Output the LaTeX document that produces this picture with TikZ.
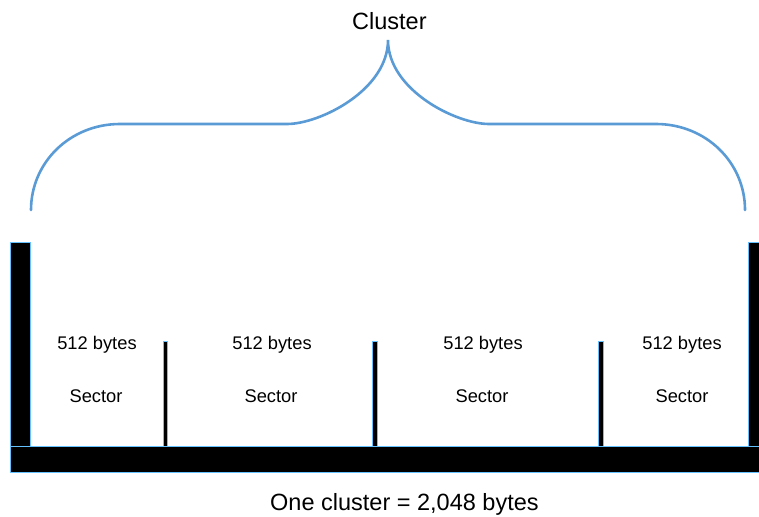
\documentclass[tikz,border=0pt]{standalone}
\usepackage{fontspec}
\setmainfont{Liberation Sans}
\begin{document}
\begin{tikzpicture}[x=1pt,y=-1pt,
  post/.style={fill=black,draw=blue!40!cyan!60!white,line width=0.8pt},
  brace/.style={draw=bracecol,line width=2.6pt,line cap=round},
  lbl/.style={font=\fontsize{18.3}{20}\selectfont,inner sep=0pt,anchor=base},
  big/.style={font=\fontsize{23.5}{26}\selectfont,inner sep=0pt,anchor=base west},
  ttl/.style={font=\fontsize{23.5}{26}\selectfont,inner sep=0pt,anchor=base west}]
\definecolor{bracecol}{HTML}{5B9BD5}
\useasboundingbox (0,0) rectangle (759,516);
% brace
\draw[brace] (31,210) .. controls (31,162.5) and (70,124) .. (120,124)
  -- (287,124) .. controls (320,124) and (388,90) .. (388,40)
  .. controls (388,90) and (456,124) .. (489,124)
  -- (656,124) .. controls (706,124) and (745,162.5) .. (745,210);
% posts and base
\path[post] (10,242) rectangle (30,447);
\path[post] (748,242) rectangle (762,447);
\path[post] (163,341) rectangle (167,447);
\path[post] (372,341) rectangle (377,447);
\path[post] (598,341) rectangle (603,447);
\path[post] (10,446) rectangle (762,472);
% texts
\node[ttl] (title) at (352,30) {Cluster};
\node[big] (total) at (270,510) {One cluster = 2,048 bytes};
\foreach \x/\y/\n in {97/96/a,272/271/b,483/482/c,682/682/d}{
  \node[lbl] (b\n) at (\x,349) {512 bytes};
  \node[lbl] (s\n) at (\y,402) {Sector};
}
\end{tikzpicture}
\end{document}
